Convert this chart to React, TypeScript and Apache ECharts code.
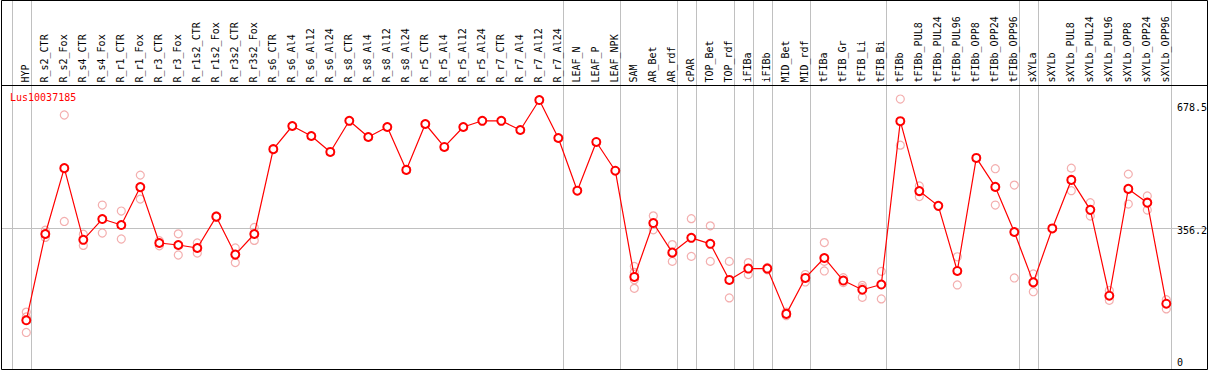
import React, { useEffect, useRef } from "react";
import * as echarts from "echarts";

const geneName = "Lus10037185";

const categories = [
  "HYP", "R_s2_CTR", "R_s2_Fox", "R_s4_CTR", "R_s4_Fox", "R_r1_CTR", "R_r1_Fox", "R_r3_CTR", "R_r3_Fox",
  "R_r1s2_CTR", "R_r1s2_Fox", "R_r3s2_CTR", "R_r3s2_Fox", "R_s6_CTR", "R_s6_Al4", "R_s6_Al12", "R_s6_Al24",
  "R_s8_CTR", "R_s8_Al4", "R_s8_Al12", "R_s8_Al24", "R_r5_CTR", "R_r5_Al4", "R_r5_Al12", "R_r5_Al24",
  "R_r7_CTR", "R_r7_Al4", "R_r7_Al12", "R_r7_Al24", "LEAF_N", "LEAF_P", "LEAF_NPK", "SAM", "AR_Bet", "AR_rdf",
  "cPAR", "TOP_Bet", "TOP_rdf", "iFIBa", "iFIBb", "MID_Bet", "MID_rdf", "tFIBa", "tFIB_Gr", "tFIB_Li", "tFIB_Bi",
  "tFIBb", "tFIBb_PUL8", "tFIBb_PUL24", "tFIBb_PUL96", "tFIBb_OPP8", "tFIBb_OPP24", "tFIBb_OPP96",
  "sXYLa", "sXYLb", "sXYLb_PUL8", "sXYLb_PUL24", "sXYLb_PUL96", "sXYLb_OPP8", "sXYLb_OPP24", "sXYLb_OPP96",
];

const means = [
  124.5, 340.5, 505.5, 326, 378, 363, 458, 318, 313,
  305.5, 384, 289, 340.5, 553, 611, 586, 546,
  624, 583.5, 608.5, 501, 616, 558.5, 608.5, 624,
  624, 601, 676, 581, 449, 571, 499, 233, 368, 294,
  331, 316, 225.5, 254, 254, 140.5, 230.5, 280.5, 224, 201, 214,
  623, 448, 411, 248, 531, 458.5, 345.5,
  219.5, 354.5, 476, 401, 186, 453.5, 419, 166,
];

const rep1 = [
  145, 350, 638.5, 340, 413, 398, 488, 324, 341,
  318, 386, 305.5, 357, null, null, null, null,
  null, null, null, null, null, null, null, null,
  null, null, null, null, null, null, null, 259.5, 386, 314,
  379, 361, 272, 269, 257, 145, 239, 319, 231, 212, 247,
  678.5, 461, null, 283.5, null, 504, 463,
  240.5, null, 505.5, 419, 199, 490.5, 436, 176,
];
const rep2 = [
  133, 340, 372, 312, 343, 328, 428, 311, 288,
  293, 382, 269, 324.5, null, null, null, null,
  null, null, null, null, null, null, null, null,
  null, null, null, null, null, null, null, 244.5, 351, 272,
  284.5, 272, 180.5, 239, 251, 136, 220.5, 272, 219, 206, 178,
  563, 434.5, null, 213, null, 413, 230.5,
  196, null, 449, 385.5, 174.5, 415.5, 400.5, 153,
];
const rep3 = [
  94, 332, null, null, null, null, null, null, null,
  null, null, null, null, null, null, null, null,
  null, null, null, null, null, null, null, null,
  null, null, null, null, null, null, null, 226, null, null,
  null, null, null, null, null, null, null, 248, null, 182, null,
  null, null, null, null, null, null, null,
  null, null, null, null, null, null, null, null,
];
const rep4 = [
  null, null, null, null, null, null, null, null, null,
  null, null, null, null, null, null, null, null,
  null, null, null, null, null, null, null, null,
  null, null, null, null, null, null, null, 204.5, null, null,
  null, null, null, null, null, null, null, null, null, null, null,
  null, null, null, null, null, null, null,
  null, null, null, null, null, null, null, null,
];

// group separators drawn just after these category indices
const separatorsAfter = [-1, 0, 28, 31, 34, 35, 37, 38, 39, 41, 45, 52, 53, 60];
const yTickLabels = ["678.5", "356.2", "0"];
const yTickValues = [678.5, 356.2, 0];
const midValue = 356.2;
const yMax = 712.4;

export default function App() {
  const ref = useRef<HTMLDivElement>(null);

  useEffect(() => {
    document.body.style.margin = "0";
    const el = ref.current;
    if (!el) return;
    const chart = echarts.init(el, null, { renderer: "svg" });

    const repPoints: [number, number][] = [];
    [rep1, rep2, rep3, rep4].forEach((arr) =>
      arr.forEach((v, i) => {
        if (v !== null && v !== undefined) repPoints.push([i, v as number]);
      })
    );

    const mono = "DejaVu Sans Mono";
    const X_MIN = -1.305;
    const X_MAX = 62.168;

    chart.setOption({
      animation: false,
      grid: { left: 1.5, right: 1.5, top: 85.5, height: 285, containLabel: false },
      xAxis: {
        type: "value",
        min: X_MIN,
        max: X_MAX,
        position: "top",
        axisLine: { show: true, onZero: false, lineStyle: { color: "#000", width: 1 } },
        axisTick: { show: false },
        splitLine: { show: false },
        axisLabel: { show: false },
      },
      yAxis: {
        type: "value",
        min: 0,
        max: yMax,
        position: "right",
        axisLine: { show: false },
        axisTick: { show: false },
        axisLabel: { show: false },
        splitLine: { show: false },
      },
      series: [
        {
          type: "scatter",
          data: repPoints,
          symbol: "circle",
          symbolSize: 8,
          itemStyle: { color: "rgba(0,0,0,0)", borderColor: "#f09a9a", borderWidth: 1.2 },
          z: 2,
          silent: true,
        },
        {
          type: "line",
          data: means.map((v, i) => [i, v]),
          symbol: "emptyCircle",
          symbolSize: 8,
          showAllSymbol: true,
          lineStyle: { color: "#ff0000", width: 1.2 },
          itemStyle: { color: "#ff0000", borderColor: "#ff0000", borderWidth: 1.5 },
          z: 3,
          silent: true,
          markLine: {
            silent: true,
            symbol: "none",
            label: { show: false },
            lineStyle: { color: "#c0c0c0", type: "solid", width: 1 },
            data: [{ yAxis: midValue }],
            z: 1,
          },
        },
      ],
    });

    const graphics: any[] = [];
    separatorsAfter.forEach((k) => {
      const x = Math.round(chart.convertToPixel({ xAxisIndex: 0 }, k + 0.2316) as number) + 0.5;
      graphics.push({
        type: "line",
        z: 0,
        shape: { x1: x, y1: 0, x2: x, y2: 369.5 },
        style: { stroke: "#c0c0c0", lineWidth: 1 },
        silent: true,
      });
    });
    graphics.push({
      type: "rect",
      z: 10,
      shape: { x: 1.5, y: 0.5, width: 1206, height: 369 },
      style: { fill: "none", stroke: "#000", lineWidth: 1 },
      silent: true,
    });
    categories.forEach((name, i) => {
      const x = chart.convertToPixel({ xAxisIndex: 0 }, i) as number;
      graphics.push({
        type: "text",
        z: 11,
        x: x - 0.5,
        y: 82.5,
        rotation: Math.PI / 2,
        style: {
          text: name,
          fill: "#000",
          font: `10px "${mono}"`,
          align: "left",
          verticalAlign: "middle",
        },
        silent: true,
      });
    });
    const labelShift = [8, 3, -8];
    yTickValues.forEach((v, i) => {
      const y = chart.convertToPixel({ yAxisIndex: 0 }, v) as number;
      graphics.push({
        type: "text",
        z: 11,
        x: 1177,
        y: y + labelShift[i],
        style: {
          text: yTickLabels[i],
          fill: "#000",
          font: `10px "${mono}"`,
          align: "left",
          verticalAlign: "middle",
        },
        silent: true,
      });
    });
    graphics.push({
      type: "text",
      z: 11,
      x: 10,
      y: 97,
      style: {
        text: geneName,
        fill: "#ff0000",
        font: `10px "${mono}"`,
        align: "left",
        verticalAlign: "middle",
      },
      silent: true,
    });
    chart.setOption({ graphic: graphics });

    return () => chart.dispose();
  }, []);

  return <div ref={ref} style={{ width: 1209, height: 370 }} />;
}
